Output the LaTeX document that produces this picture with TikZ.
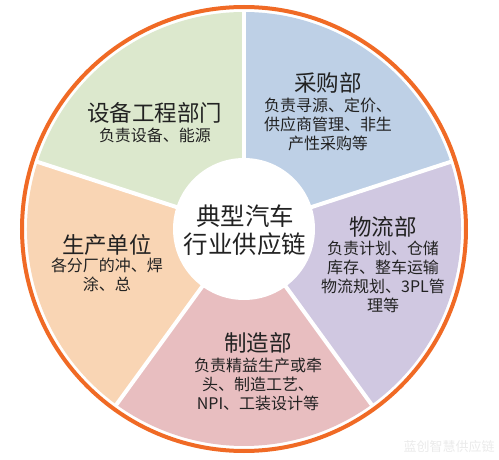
\documentclass[tikz,border=0pt]{standalone}
\usepackage{fontspec}
\setmainfont{Noto Sans CJK SC}
\definecolor{SupplyGreen}{HTML}{DCE8CD}
\definecolor{SupplyBlue}{HTML}{BED0E6}
\definecolor{SupplyPurple}{HTML}{D0C8E1}
\definecolor{SupplyPink}{HTML}{E8BEC0}
\definecolor{SupplyPeach}{HTML}{F9D5B4}
\definecolor{SupplyRim}{HTML}{F06A25}
\definecolor{SupplyText}{HTML}{222222}
\usepackage{tikz}
\usetikzlibrary{positioning}
\tikzset{
  dept/.style={font=\fontsize{22.5}{26}\selectfont, color=SupplyText, inner sep=0pt},
  duty/.style={font=\fontsize{16}{19}\selectfont, color=SupplyText, align=center, inner sep=0pt},
}

\begin{document}
\begin{tikzpicture}[x=1pt, y=1pt]
\useasboundingbox (0,0) rectangle (499,459);
\fill[white] (0,0) rectangle (499,459);
\coordinate (hub) at (244,230);
% Five sectors
\fill[SupplyGreen]  (hub) -- ++(90:217)   arc (90:162:217)   -- cycle;
\fill[SupplyBlue]   (hub) -- ++(18:217)   arc (18:90:217)    -- cycle;
\fill[SupplyPurple] (hub) -- ++(-54:217)  arc (-54:18:217)   -- cycle;
\fill[SupplyPink]   (hub) -- ++(-126:217) arc (-126:-54:217) -- cycle;
\fill[SupplyPeach]  (hub) -- ++(162:217)  arc (162:234:217)  -- cycle;
% White dividers
\foreach \a in {90,18,-54,-126,162}
  \draw[white, line width=4pt] (hub) -- ++(\a:218);
% Centre disc and rim
\fill[white] (hub) circle (71);
\draw[SupplyRim, line width=4pt] (hub) circle (222);
% Centre title
\node[font=\fontsize{24.5}{28}\selectfont, color=SupplyText, align=center, inner sep=0pt]
  (chain) at (245,229) {典型汽车\\行业供应链};
% Departments
\node[dept] (equip) at (155,346) {设备工程部门};
\node[duty] (equipduty) at (155,324) {负责设备、能源};
\node[dept] (purchase) at (328,376) {采购部};
\node[duty] (purchaseduty) at (328,335) {负责寻源、定价、\\供应商管理、非生\\产性采购等};
\node[dept] (logistics) at (383,232) {物流部};
\node[duty] (logisticsduty) at (383,182) {负责计划、仓储\\库存、整车运输\\物流规划、3PL管\\理等};
\node[dept] (plant) at (107,214) {生产单位};
\node[duty] (plantduty) at (107,184) {各分厂的冲、焊\\涂、总};
\node[dept] (making) at (258,116) {制造部};
\node[duty] (makingduty) at (258,75) {负责精益生产或牵\\头、制造工艺、\\NPI、工装设计等};
% Watermark
\node[font=\fontsize{13}{15}\selectfont, color=black!8, inner sep=0pt] (mark) at (449,12) {蓝创智慧供应链};
\end{tikzpicture}
\end{document}
